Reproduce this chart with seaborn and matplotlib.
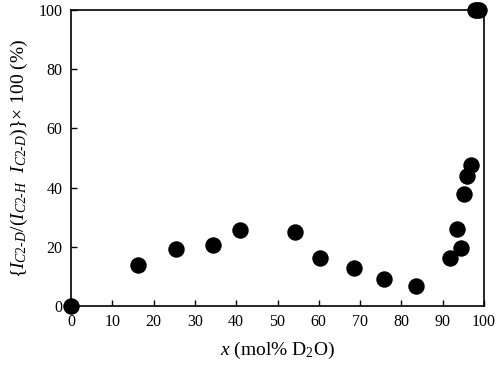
import matplotlib
matplotlib.use('Agg')
import matplotlib.pyplot as plt
import seaborn as sns
import pandas as pd

# data
x_mol = [0, 16.2, 25.4, 34.4, 40.9, 54.2, 60.3, 68.5, 75.8, 83.5,
         91.8, 93.5, 94.4, 95.2, 95.9, 96.8, 97.8, 98.3, 98.7]
ratio = [0, 13.8, 19.2, 20.5, 25.6, 24.9, 16.2, 12.8, 9.1, 6.7,
         16.2, 25.9, 19.5, 38.0, 43.8, 47.5, 100, 100, 100]
x_ticks = [0, 10, 20, 30, 40, 50, 60, 70, 80, 90, 100]
y_ticks = [0, 20, 40, 60, 80, 100]

df = pd.DataFrame({'x': x_mol, 'ratio': ratio})

sns.set_theme(style='ticks')
plt.rcParams['font.family'] = ['Liberation Serif', 'DejaVu Serif']
plt.rcParams['mathtext.fontset'] = 'custom'
plt.rcParams['mathtext.rm'] = 'Liberation Serif'
plt.rcParams['mathtext.it'] = 'Liberation Serif:italic'

fig = plt.figure(figsize=(5, 3.7), dpi=100)
ax = fig.add_axes([0.142, 0.173, 0.826, 0.800])

sns.scatterplot(data=df, x='x', y='ratio', ax=ax, color='black', s=140,
                edgecolor='black', linewidth=0, clip_on=False, zorder=5)

ax.set_xlim(0, 100)
ax.set_ylim(0, 100)
ax.set_xticks(x_ticks)
ax.set_yticks(y_ticks)
ax.tick_params(direction='in', length=4, width=1, labelsize=11.5, colors='black', pad=6)
for s in ax.spines.values():
    s.set_visible(True)
    s.set_color('black')
    s.set_linewidth(1.2)

ax.set_xlabel(r'$x$ (mol% D$_2$O)', fontsize=14, color='black', labelpad=7)
ax.set_ylabel(r'{$I_{C2\text{-}D}$/($I_{C2\text{-}H}$  $I_{C2\text{-}D}$)}$\times$ 100 (%)',
              fontsize=14, color='black', labelpad=6)

fig.savefig('out.png', dpi=100)
